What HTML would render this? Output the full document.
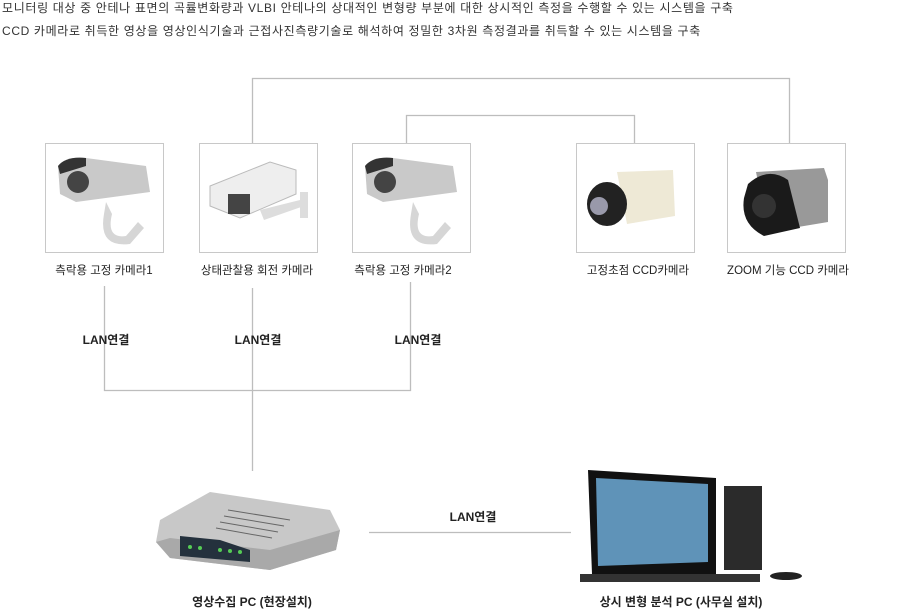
<!DOCTYPE html>
<html><head><meta charset="utf-8"><style>
body{margin:0;width:924px;height:614px;background:#fff;position:relative;overflow:hidden;font-family:"Liberation Sans","Noto Sans CJK KR",sans-serif;}
.t{position:absolute;font-size:12px;color:#333;white-space:nowrap;letter-spacing:0.65px;}
.box{position:absolute;top:143px;width:117px;height:108px;border:1px solid #c8c8c8;background:#fff;}
.cap{position:absolute;top:262px;font-size:11.5px;color:#222;white-space:nowrap;transform:translateX(-50%);}
.lan{position:absolute;font-size:12px;font-weight:bold;color:#222;transform:translateX(-50%);white-space:nowrap;}
.bl{position:absolute;font-size:12px;font-weight:bold;color:#222;transform:translateX(-50%);white-space:nowrap;top:593px;}
</style></head><body>
<div class="t" style="left:2px;top:-1px">모니터링 대상 중 안테나 표면의 곡률변화량과 VLBI 안테나의 상대적인 변형량 부분에 대한 상시적인 측정을 수행할 수 있는 시스템을 구축</div>
<div class="t" style="left:2px;top:22px">CCD 카메라로 취득한 영상을 영상인식기술과 근접사진측량기술로 해석하여 정밀한 3차원 측정결과를 취득할 수 있는 시스템을 구축</div>

<svg width="924" height="614" style="position:absolute;left:0;top:0" fill="none">
<g stroke="#bdbdbd" stroke-width="1.3">
<path d="M252.5 143V78.5H789.5V143"/>
<path d="M406.5 143V115.5H634.5V143"/>
<path d="M104.5 286V390.5H410.5V282"/>
<path d="M252.5 288V471"/>
<path d="M369 532.5H571"/>
</g>
</svg>

<div class="box" style="left:45px"><svg width="117" height="108">
<path d="M12 22 Q20 12 40 14 L100 22 L104 48 L30 58 L14 50Z" fill="#c9c9c9"/><path d="M12 22 Q20 12 40 14 L40 22 L14 30Z" fill="#333"/>
<circle cx="32" cy="38" r="11" fill="#444"/><path d="M60 58 L66 70 Q60 95 80 92 L92 78 L98 84 L84 100 Q52 104 58 70Z" fill="#d6d6d6"/></svg></div>
<div class="box" style="left:199px"><svg width="117" height="108">
<path d="M10 42 L70 18 L96 26 L96 50 L40 74 L10 62Z" fill="#eee" stroke="#bbb"/><rect x="28" y="50" width="22" height="20" fill="#444"/>
<path d="M60 66 L100 56 L104 62 L64 76Z" fill="#ddd"/><rect x="100" y="48" width="8" height="26" fill="#ddd"/></svg></div>
<div class="box" style="left:352px"><svg width="117" height="108">
<path d="M12 22 Q20 12 40 14 L100 22 L104 48 L30 58 L14 50Z" fill="#c9c9c9"/><path d="M12 22 Q20 12 40 14 L40 22 L14 30Z" fill="#333"/>
<circle cx="32" cy="38" r="11" fill="#444"/><path d="M60 58 L66 70 Q60 95 80 92 L92 78 L98 84 L84 100 Q52 104 58 70Z" fill="#d6d6d6"/></svg></div>
<div class="box" style="left:576px"><svg width="117" height="108">
<path d="M40 28 L96 26 L98 72 L50 80Z" fill="#eee9d6"/><ellipse cx="30" cy="60" rx="20" ry="22" fill="#222"/><circle cx="22" cy="62" r="9" fill="#99a"/></svg></div>
<div class="box" style="left:727px"><svg width="117" height="108">
<path d="M28 28 L96 24 L100 36 L100 78 L40 88Z" fill="#999"/><path d="M20 40 Q40 22 60 36 L72 84 L36 92 Q12 80 16 54Z" fill="#1a1a1a"/><circle cx="36" cy="62" r="12" fill="#333"/></svg></div>

<div class="cap" style="left:104px">측락용 고정 카메라1</div>
<div class="cap" style="left:257px">상태관찰용 회전 카메라</div>
<div class="cap" style="left:403px">측락용 고정 카메라2</div>
<div class="cap" style="left:638px">고정초점 CCD카메라</div>
<div class="cap" style="left:788px">ZOOM 기능 CCD 카메라</div>

<div class="lan" style="left:106px;top:331px">LAN연결</div>
<div class="lan" style="left:258px;top:331px">LAN연결</div>
<div class="lan" style="left:418px;top:331px">LAN연결</div>
<div class="lan" style="left:473px;top:508px">LAN연결</div>

<svg width="200" height="100" style="position:absolute;left:150px;top:480px">
<path d="M10 40 L60 12 L180 30 L190 50 L186 70 L120 90 L20 78 L6 62Z" fill="#c8c8c8"/>
<path d="M6 62 L20 78 L120 90 L186 70 L190 50 L120 70 L20 58Z" fill="#a9a9a9"/>
<path d="M30 56 L70 60 L100 70 L100 82 L30 76Z" fill="#24313d"/>
<g fill="#5c5"><circle cx="40" cy="67" r="2"/><circle cx="50" cy="68" r="2"/><circle cx="70" cy="70" r="2"/><circle cx="80" cy="71" r="2"/><circle cx="90" cy="72" r="2"/></g>
<g stroke="#666"><path d="M78 30L140 40M74 36L134 46M70 42L128 52M66 48L122 58"/></g></svg>

<svg width="230" height="125" style="position:absolute;left:576px;top:462px">
<path d="M12 8 L140 16 L140 112 L16 112Z" fill="#111"/><path d="M20 16 L132 22 L132 100 L22 104Z" fill="#5f93b8"/>
<rect x="148" y="24" width="38" height="84" fill="#2b2b2b"/><rect x="60" y="108" width="30" height="8" fill="#111"/>
<rect x="4" y="112" width="180" height="8" fill="#333"/><ellipse cx="210" cy="114" rx="16" ry="4" fill="#222"/></svg>

<div class="bl" style="left:252px">영상수집 PC (현장설치)</div>
<div class="bl" style="left:681px">상시 변형 분석 PC (사무실 설치)</div>
</body></html>
